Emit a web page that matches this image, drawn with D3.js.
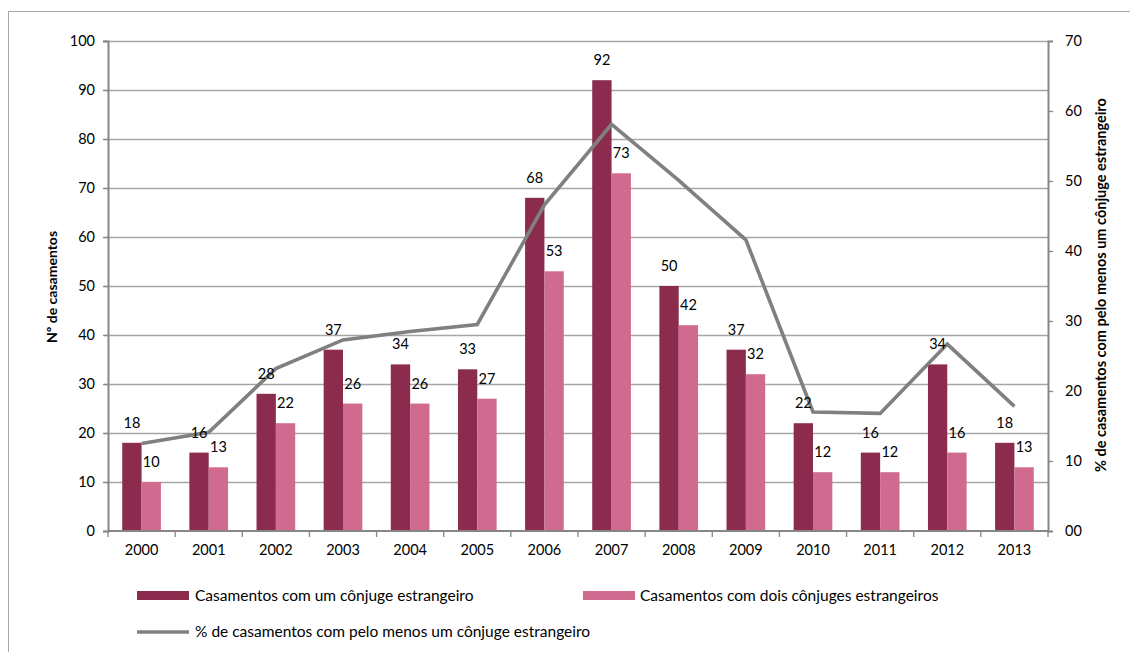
<!DOCTYPE html>
<html>
<head>
<meta charset="utf-8">
<script src="https://cdn.jsdelivr.net/npm/d3@7"></script>
<style>
  html, body { margin: 0; padding: 0; background: #fff; }
  svg { display: block; font-family: Lato, "Open Sans", sans-serif; }
</style>
</head>
<body>
<svg id="chart" width="1130" height="652"></svg>
<script>
// Marriage data by year
const years = ["2000","2001","2002","2003","2004","2005","2006","2007","2008","2009","2010","2011","2012","2013"];
const umEstrangeiro = [18, 16, 28, 37, 34, 33, 68, 92, 50, 37, 22, 16, 34, 18];
const doisEstrangeiros = [10, 13, 22, 26, 26, 27, 53, 73, 42, 32, 12, 12, 16, 13];
const pctPeloMenosUm = [12.5, 14.1, 23.2, 27.3, 28.5, 29.5, 46.6, 58.1, 50.1, 41.6, 17.0, 16.8, 26.7, 17.8];
const leftTicks = [0, 10, 20, 30, 40, 50, 60, 70, 80, 90, 100];
const rightTicks = [0, 10, 20, 30, 40, 50, 60, 70];
const seriesNames = [
  "Casamentos com um cônjuge estrangeiro",
  "Casamentos com dois cônjuges estrangeiros",
  "% de casamentos com pelo menos um cônjuge estrangeiro"
];

const colDark = "#8B2C4F";
const colLight = "#D06A8E";
const colLine = "#808080";
const colAxis = "#868686";
const colGrid = "#A6A6A6";

const svg = d3.select("#chart");
const plot = { left: 108, right: 1048, top: 41, bottom: 531 };

// Outer chart frame
svg.append("rect")
  .attr("x", 8.5).attr("y", 11.5)
  .attr("width", 1130).attr("height", 660)
  .attr("fill", "none").attr("stroke", "#A6A6A6").attr("stroke-width", 1);

const x = d3.scaleBand().domain(years).range([plot.left, plot.right]).paddingInner(0).paddingOuter(0);
const yL = d3.scaleLinear().domain([0, 100]).range([plot.bottom, plot.top]);
const yR = d3.scaleLinear().domain([0, 70]).range([plot.bottom, plot.top]);

const barW = x.bandwidth() * 0.288;

// Gridlines
svg.append("g").selectAll("line")
  .data(leftTicks.filter(d => d > 0))
  .join("line")
  .attr("x1", plot.left - 4).attr("x2", plot.right)
  .attr("y1", d => Math.round(yL(d)) + 0.5).attr("y2", d => Math.round(yL(d)) + 0.5)
  .attr("stroke", colGrid).attr("stroke-width", 1.3);

// Bars
const barsG = svg.append("g");
barsG.selectAll("rect.um")
  .data(years.map((y, i) => ({ y, v: umEstrangeiro[i] })))
  .join("rect")
  .attr("x", d => x(d.y) + x.bandwidth() / 2 - barW)
  .attr("y", d => yL(d.v))
  .attr("width", barW)
  .attr("height", d => yL(0) - yL(d.v))
  .attr("fill", colDark);
barsG.selectAll("rect.dois")
  .data(years.map((y, i) => ({ y, v: doisEstrangeiros[i] })))
  .join("rect")
  .attr("x", d => x(d.y) + x.bandwidth() / 2)
  .attr("y", d => yL(d.v))
  .attr("width", barW)
  .attr("height", d => yL(0) - yL(d.v))
  .attr("fill", colLight);

// Axes lines
const leftAxis = d3.axisLeft(yL).tickValues(leftTicks).tickSize(5).tickPadding(8);
const gL = svg.append("g").attr("transform", `translate(${plot.left},0)`).call(leftAxis);
gL.select(".domain").attr("stroke", colAxis).attr("stroke-width", 2);
gL.selectAll(".tick line").attr("stroke", colAxis).attr("stroke-width", 1.3);
gL.selectAll(".tick text").attr("font-size", 14.5).attr("fill", "#000").attr("font-family", "Lato");

const rightAxis = d3.axisRight(yR).tickValues(rightTicks).tickSize(5).tickPadding(12)
  .tickFormat(d3.format("02d"));
const gR = svg.append("g").attr("transform", `translate(${plot.right},0)`).call(rightAxis);
gR.select(".domain").attr("stroke", colAxis).attr("stroke-width", 2);
gR.selectAll(".tick line").attr("stroke", colAxis).attr("stroke-width", 1.3);
gR.selectAll(".tick text").attr("font-size", 14.5).attr("fill", "#000").attr("font-family", "Lato");

const bottomAxis = d3.axisBottom(x).tickSize(0).tickPadding(14);
const gB = svg.append("g").attr("transform", `translate(0,${plot.bottom})`).call(bottomAxis);
gB.select(".domain").remove();
gB.selectAll(".tick text").attr("font-size", 14.5).attr("fill", "#000").attr("font-family", "Lato");
svg.append("line")
  .attr("x1", plot.left).attr("x2", plot.right)
  .attr("y1", plot.bottom).attr("y2", plot.bottom)
  .attr("stroke", colAxis).attr("stroke-width", 2);
// Category separator ticks
svg.append("g").selectAll("line")
  .data(years.concat(["end"]))
  .join("line")
  .attr("x1", (d, i) => plot.left + i * x.bandwidth())
  .attr("x2", (d, i) => plot.left + i * x.bandwidth())
  .attr("y1", plot.bottom).attr("y2", plot.bottom + 6)
  .attr("stroke", colAxis).attr("stroke-width", 1.3);

// Percentage line
const line = d3.line()
  .x((d, i) => x(years[i]) + x.bandwidth() / 2)
  .y(d => yR(d));
svg.append("path")
  .datum(pctPeloMenosUm)
  .attr("d", line)
  .attr("fill", "none")
  .attr("stroke", colLine)
  .attr("stroke-width", 3.6)
  .attr("stroke-linejoin", "miter");

// Value labels
const labelsG = svg.append("g").attr("font-size", 14.5).attr("fill", "#000").attr("text-anchor", "middle");
labelsG.selectAll("text.um")
  .data(years.map((y, i) => ({ y, v: umEstrangeiro[i] })))
  .join("text")
  .attr("x", d => x(d.y) + x.bandwidth() / 2 - barW / 2)
  .attr("y", d => yL(d.v) - 15)
  .text(d => d.v);
labelsG.selectAll("text.dois")
  .data(years.map((y, i) => ({ y, v: doisEstrangeiros[i] })))
  .join("text")
  .attr("x", d => x(d.y) + x.bandwidth() / 2 + barW / 2)
  .attr("y", d => yL(d.v) - 15)
  .text(d => d.v);

// Axis titles
svg.append("text")
  .attr("transform", `translate(57,287) rotate(-90)`)
  .attr("text-anchor", "middle")
  .attr("font-size", 14).attr("font-weight", "bold")
  .text("Nº de casamentos");
svg.append("text")
  .attr("transform", `translate(1106,285) rotate(-90)`)
  .attr("text-anchor", "middle")
  .attr("font-size", 14.5).attr("font-weight", "bold")
  .text(seriesNames[2]);

// Legend
const legend = svg.append("g").attr("font-size", 15.5);
legend.append("rect").attr("x", 137).attr("y", 591).attr("width", 52).attr("height", 9).attr("fill", colDark);
legend.append("text").attr("x", 195).attr("y", 601).text(seriesNames[0]);
legend.append("rect").attr("x", 583).attr("y", 591).attr("width", 52).attr("height", 9).attr("fill", colLight);
legend.append("text").attr("x", 640).attr("y", 601).text(seriesNames[1]);
legend.append("line").attr("x1", 137).attr("x2", 189).attr("y1", 632).attr("y2", 632)
  .attr("stroke", colLine).attr("stroke-width", 3.6);
legend.append("text").attr("x", 195).attr("y", 637).text(seriesNames[2]);
</script>
</body>
</html>
